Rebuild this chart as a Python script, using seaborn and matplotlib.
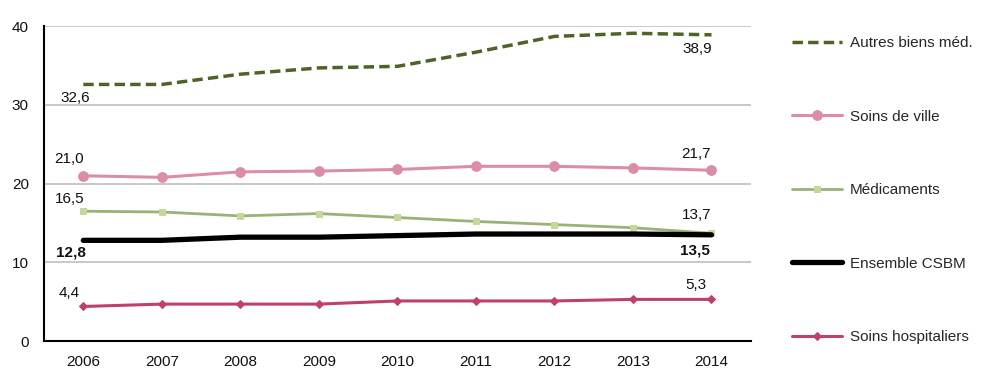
import matplotlib
matplotlib.use("Agg")
import matplotlib.pyplot as plt
import seaborn as sns
import pandas as pd
import numpy as np

years = ["2006", "2007", "2008", "2009", "2010", "2011", "2012", "2013", "2014"]
autres = [32.6, 32.6, 33.9, 34.7, 34.9, 36.7, 38.7, 39.1, 38.9]
soins_ville = [21.0, 20.8, 21.5, 21.6, 21.8, 22.2, 22.2, 22.0, 21.7]
medicaments = [16.5, 16.4, 15.9, 16.2, 15.7, 15.2, 14.8, 14.4, 13.7]
ensemble = [12.8, 12.8, 13.2, 13.2, 13.4, 13.6, 13.6, 13.6, 13.5]
hospitaliers = [4.4, 4.7, 4.7, 4.7, 5.1, 5.1, 5.1, 5.3, 5.3]

series = ["Autres biens méd.", "Soins de ville", "Médicaments", "Ensemble CSBM", "Soins hospitaliers"]
values = [autres, soins_ville, medicaments, ensemble, hospitaliers]

sns.set_style("white")
plt.rcParams["font.family"] = ["Liberation Sans", "DejaVu Sans"]

fig = plt.figure(figsize=(10.01, 3.85), dpi=100)
ax = fig.add_axes([0.044, 0.114, 0.706, 0.818])

styles = {
    "Autres biens méd.": dict(color="#4F6228", lw=2.5, dashes=(3, 1.5), marker=None),
    "Soins de ville": dict(color="#DB8DA6", lw=2.2, marker="o", ms=7, mfc="#DB8DA6"),
    "Médicaments": dict(color="#9BB276", lw=2.0, marker="s", ms=5, mfc="#C4D89A"),
    "Ensemble CSBM": dict(color="#000000", lw=3.8, marker=None),
    "Soins hospitaliers": dict(color="#C0406A", lw=2.2, marker="D", ms=4, mfc="#C0406A"),
}

x = np.arange(len(years))
for name, vals in zip(series, values):
    st = styles[name]
    df = pd.DataFrame({"x": x, "y": vals})
    sns.lineplot(data=df, x="x", y="y", ax=ax, color=st["color"], linewidth=st["lw"],
                 marker=st["marker"], markersize=st.get("ms", 0),
                 markerfacecolor=st.get("mfc", st["color"]), markeredgecolor=st.get("mfc", st["color"]),
                 label=name)
    if "dashes" in st:
        ax.get_lines()[-1].set_dashes(st["dashes"])

def fmt(v):
    return f"{v:.1f}".replace(".", ",")

# (dx first, dy first, dx last, dy last)
offsets = {
    "Autres biens méd.": (-6, -1.7, -10.5, -1.8),
    "Soins de ville": (-10, 2.1, -11, 2.1),
    "Médicaments": (-10, 1.6, -11, 2.3),
    "Ensemble CSBM": (-9, -1.6, -12, -2.0),
    "Soins hospitaliers": (-10, 1.7, -11, 1.8),
}
for name, vals in zip(series, values):
    dx0, dy0, dx1, dy1 = offsets[name]
    bold = "bold" if name == "Ensemble CSBM" else "normal"
    for i, dx, dy in [(0, dx0, dy0), (len(vals) - 1, dx1, dy1)]:
        ax.annotate(fmt(vals[i]), (x[i], vals[i] + dy), xytext=(dx, 0), textcoords="offset points",
                    ha="center", va="center", fontsize=11, fontweight=bold, color="#111111")

ax.set_xlim(-0.5, len(years) - 0.5)
ax.set_ylim(0, 40)
ax.set_yticks([0, 10, 20, 30, 40])
ax.set_xticks(x)
ax.set_xticklabels(years)
ax.set_xticks(np.arange(0.5, len(years) + 0.5, 1), minor=True)
ax.tick_params(axis="x", which="major", length=0, labelsize=11, pad=10, colors="#111111")
ax.tick_params(axis="x", which="minor", direction="in", length=6, width=1.2, color="black")
ax.tick_params(axis="y", which="major", direction="out", length=4, width=1.2, labelsize=11, pad=7,
               colors="#111111")
ax.yaxis.grid(True, color="#BFBFBF", lw=1.2)
ax.set_axisbelow(True)
ax.set_xlabel("")
ax.set_ylabel("")
for s in ["top", "right"]:
    ax.spines[s].set_visible(False)
for s in ["left", "bottom"]:
    ax.spines[s].set_color("black")
    ax.spines[s].set_linewidth(1.5)

handles, labels = ax.get_legend_handles_labels()
if ax.get_legend():
    ax.get_legend().remove()
fig.legend(handles, labels, loc="upper left", bbox_to_anchor=(0.777, 0.942), frameon=False,
           fontsize=11, labelspacing=3.9, handlelength=3.3, handletextpad=0.5)

fig.savefig("out.png", dpi=100)
